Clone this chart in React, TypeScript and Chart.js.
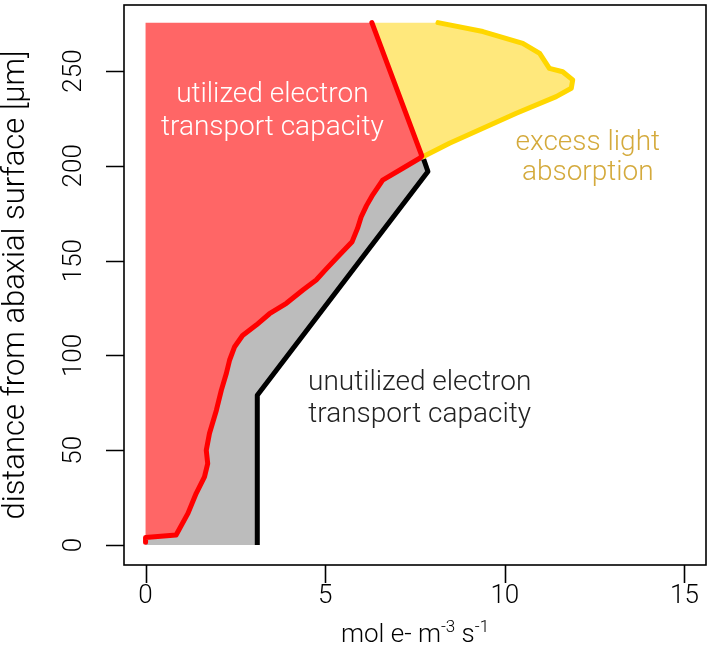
import React, { useEffect, useRef } from 'react';
import { Chart, registerables } from 'chart.js';

Chart.register(...registerables);

// Utilized electron transport (red line), x = mol e- m^-3 s^-1, y = distance [µm]
const utilizedX = [0, 0, 0.85, 1.18, 1.41, 1.64, 1.73, 1.69, 1.78, 1.97, 2.11, 2.25, 2.34, 2.48, 2.7, 3.08, 3.45, 3.92, 4.38, 4.75, 5.0, 5.35, 5.75, 5.9, 6.0, 6.15, 6.3, 6.6, 7.16, 7.63, 7.69, 6.3];
const utilizedY = [1.5, 4, 5.3, 16.7, 27.3, 36, 43, 50, 59, 71, 81.7, 90.6, 97.6, 104.6, 110.5, 116, 122, 127.5, 134.5, 139.8, 145, 152, 160, 167, 173, 179, 184, 192.5, 198.7, 204, 205.2, 275.5];
const junctionIndex = 30;

// Electron transport capacity (black line)
const capacityX = [3.11, 3.11, 7.86, 7.74];
const capacityY = [0, 79, 197, 203.5];

// Light absorption (gold line)
const absorptionX = [8.14, 9.39, 10.5, 10.97, 11.24, 11.61, 11.89, 11.85, 11.43, 10.32, 9.39, 8.46, 7.72];
const absorptionY = [275.5, 270.8, 264.6, 259.3, 251.4, 249.6, 245.3, 240.9, 236.5, 227.7, 219.8, 211.9, 204.8];

const xTickValues = [0, 5, 10, 15];
const yTickValues = [0, 50, 100, 150, 200, 250];

const xTitleParts = [
  { t: 'mol e- m', sup: false },
  { t: '-3', sup: true },
  { t: ' s', sup: false },
  { t: '-1', sup: true },
];
const yTitle = 'distance from abaxial surface [μm]';

const annotations = [
  { lines: ['utilized electron', 'transport capacity'], x: 3.53, y: [237.3, 219.9], color: '#ffffff' },
  { lines: ['excess light', 'absorption'], x: 12.31, y: [212.2, 196.0], color: '#d4aa3c' },
  { lines: ['unutilized electron', 'transport capacity'], x: 7.63, y: [85.4, 68.6], color: '#222222' },
];

const pts = (xs: number[], ys: number[]) => xs.map((x, i) => ({ x, y: ys[i] }));

const FONT = 'Roboto, "Liberation Sans", Arial, sans-serif';

const decorPlugin = {
  id: 'decor',
  afterDraw(chart: any) {
    const { ctx, chartArea: a } = chart;
    const xs = chart.scales.x;
    const ys = chart.scales.y;
    ctx.save();
    ctx.strokeStyle = '#000';
    ctx.lineWidth = 1.6;
    ctx.strokeRect(a.left, a.top, a.right - a.left, a.bottom - a.top);
    ctx.beginPath();
    xTickValues.forEach((v) => {
      const p = Math.round(xs.getPixelForValue(v)) + 0.5;
      ctx.moveTo(p, a.bottom);
      ctx.lineTo(p, a.bottom + 18);
    });
    yTickValues.forEach((v) => {
      const p = Math.round(ys.getPixelForValue(v)) + 0.5;
      ctx.moveTo(a.left, p);
      ctx.lineTo(a.left - 18, p);
    });
    ctx.stroke();

    ctx.fillStyle = '#000';
    ctx.font = `300 26px ${FONT}`;
    ctx.textAlign = 'center';
    ctx.textBaseline = 'middle';
    xTickValues.forEach((v) => ctx.fillText(String(v), xs.getPixelForValue(v), a.bottom + 31));
    yTickValues.forEach((v) => {
      ctx.save();
      ctx.translate(a.left - 50, ys.getPixelForValue(v));
      ctx.rotate(-Math.PI / 2);
      ctx.fillText(String(v), 0, 0);
      ctx.restore();
    });

    // y title
    ctx.save();
    ctx.font = `300 31px ${FONT}`;
    ctx.translate(a.left - 108, (a.top + a.bottom) / 2);
    ctx.rotate(-Math.PI / 2);
    ctx.fillText(yTitle, 0, 0);
    ctx.restore();

    // x title with superscripts
    const normalFont = `300 26px ${FONT}`;
    const supFont = `300 17px ${FONT}`;
    let total = 0;
    const widths = xTitleParts.map((p) => {
      ctx.font = p.sup ? supFont : normalFont;
      const w = ctx.measureText(p.t).width;
      total += w;
      return w;
    });
    let cx = (a.left + a.right) / 2 - total / 2;
    const baseY = a.bottom + 77;
    ctx.textAlign = 'left';
    ctx.textBaseline = 'alphabetic';
    xTitleParts.forEach((p, i) => {
      ctx.font = p.sup ? supFont : normalFont;
      ctx.fillText(p.t, cx, p.sup ? baseY - 10 : baseY);
      cx += widths[i];
    });

    // annotations
    ctx.textAlign = 'center';
    ctx.textBaseline = 'middle';
    ctx.font = `300 28px ${FONT}`;
    annotations.forEach((an) => {
      ctx.fillStyle = an.color;
      an.lines.forEach((line, i) => {
        ctx.fillText(line, xs.getPixelForValue(an.x), ys.getPixelForValue(an.y[i]));
      });
    });
    ctx.restore();
  },
};

export default function App() {
  const ref = useRef<HTMLCanvasElement>(null);
  useEffect(() => {
    document.body.style.margin = '0';
    const utilized = pts(utilizedX, utilizedY);
    const capacity = pts(capacityX, capacityY);
    const absorption = pts(absorptionX, absorptionY);
    const grayPoly = [{ x: 0, y: 0 }, ...capacity, ...utilized.slice(0, junctionIndex + 1).reverse()];
    const redPoly = [...utilized, { x: 0, y: utilizedY[utilizedY.length - 1] }];
    const yellowPoly = [utilized[junctionIndex], utilized[utilized.length - 1], ...absorption];

    const lineBase = {
      pointRadius: 0,
      tension: 0,
      fill: false,
      borderWidth: 5,
      borderJoinStyle: 'round' as const,
      borderCapStyle: 'round' as const,
    };
    const fillBase = {
      pointRadius: 0,
      tension: 0,
      borderWidth: 0,
      borderColor: 'rgba(0,0,0,0)',
      fill: 'shape' as const,
    };

    const chart = new Chart(ref.current!, {
      type: 'line',
      data: {
        datasets: [
          { ...lineBase, label: 'utilized', data: utilized, borderColor: '#ff0000' },
          { ...lineBase, label: 'absorption', data: absorption, borderColor: '#ffd700' },
          { ...lineBase, label: 'capacity', data: capacity, borderColor: '#000000', borderCapStyle: 'butt' as const },
          { ...fillBase, label: 'excess', data: yellowPoly, backgroundColor: '#ffe87c' },
          { ...fillBase, label: 'utilizedArea', data: redPoly, backgroundColor: '#ff6666' },
          { ...fillBase, label: 'unutilizedArea', data: grayPoly, backgroundColor: '#bcbcbc' },
        ] as any,
      },
      options: {
        responsive: false,
        animation: false,
        events: [],
        layout: { padding: { left: 124, right: 3, top: 5, bottom: 100 } },
        scales: {
          x: { type: 'linear', min: -0.6, max: 15.6, display: false },
          y: { type: 'linear', min: -10.5, max: 284.8, display: false },
        },
        plugins: {
          legend: { display: false },
          tooltip: { enabled: false },
        },
      },
      plugins: [decorPlugin],
    });
    return () => chart.destroy();
  }, []);
  return <canvas ref={ref} width={709} height={665} style={{ display: 'block', width: 709, height: 665 }} />;
}
